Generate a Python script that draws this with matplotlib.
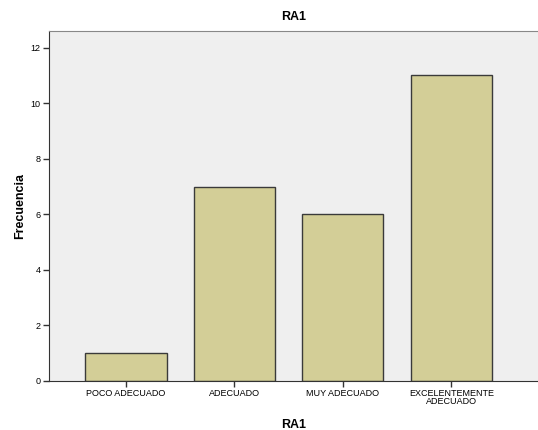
import matplotlib
matplotlib.use('Agg')
import matplotlib.pyplot as plt

categories = ['POCO ADECUADO', 'ADECUADO', 'MUY ADECUADO', 'EXCELENTEMENTE\nADECUADO']
counts = [1, 7, 6, 11]
yticks = [0, 2, 4, 6, 8, 10, 12]

plt.rcParams['font.family'] = ['Liberation Sans', 'DejaVu Sans']

fig = plt.figure(figsize=(5.38, 4.30), dpi=100)
ax = fig.add_axes([49 / 538, 1 - 381 / 430, 1 - 49 / 538, (381 - 31) / 430])
ax.set_facecolor('#EFEFEF')

x = range(len(categories))
ax.bar(x, counts, width=0.75, color='#D3CE97', edgecolor='#3a3a3a', linewidth=1.0, zorder=2)

ax.set_xlim(-0.71, 3.8)
ax.set_ylim(0, 12.6)
ax.set_xticks(list(x))
ax.set_xticklabels(categories, fontsize=6.5, linespacing=0.85)
ax.set_yticks(yticks)
ax.set_yticklabels([str(v) for v in yticks], fontsize=6.5)
ax.tick_params(axis='both', direction='out', length=4, width=1, color='#333333', pad=2)

ax.spines['right'].set_visible(False)
ax.spines['top'].set_color('#888888')
ax.spines['left'].set_color('#333333')
ax.spines['bottom'].set_color('#333333')

ax.set_title('RA1', fontsize=9, fontweight='bold', pad=8)
ax.set_xlabel('RA1', fontsize=9, fontweight='bold', labelpad=9)
ax.set_ylabel('Frecuencia', fontsize=9, fontweight='bold', labelpad=3)

fig.savefig('out.png', dpi=100)
